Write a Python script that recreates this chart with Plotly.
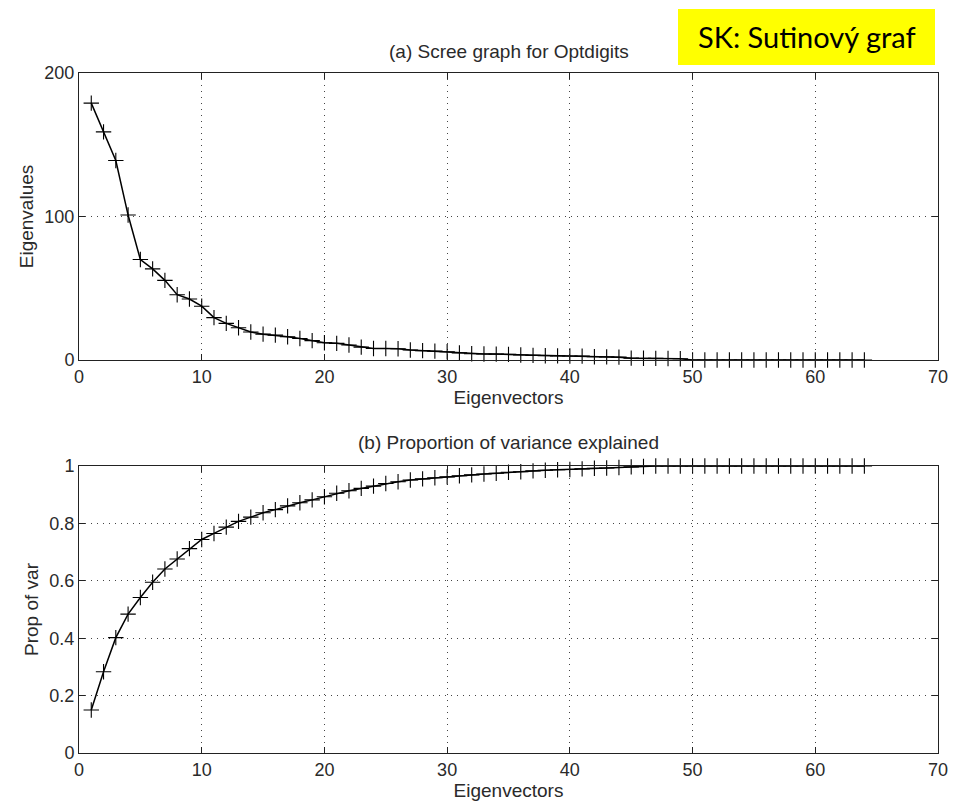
import plotly.graph_objects as go

eigvec = list(range(1, 65))
eigenvalues = [179, 159, 139, 101, 70, 63.5, 55.5, 45.5, 42.5, 37.5,
               29.5, 25.5, 22.5, 19.5, 18, 17.3, 16.2, 15, 13.5, 12,
               11.6, 10.5, 9, 8, 8, 7.8, 7, 6.5, 6.2, 5.8,
               5, 4.4, 4.2, 4.1, 3.9, 3.5, 3.2, 3.0, 2.9, 2.8,
               2.7, 2.3, 2.2, 2.0, 1.3, 1.2, 1.1, 1.0, 0.9, 0,
               0, 0, 0, 0, 0, 0, 0, 0, 0, 0, 0, 0, 0, 0]
prop_var = [0.150, 0.283, 0.402, 0.484, 0.542, 0.595, 0.641, 0.676, 0.712, 0.744,
            0.765, 0.787, 0.807, 0.822, 0.837, 0.848, 0.861, 0.872, 0.882, 0.893,
            0.905, 0.914, 0.922, 0.930, 0.939, 0.945, 0.951, 0.955, 0.959, 0.962,
            0.966, 0.969, 0.972, 0.975, 0.978, 0.980, 0.983, 0.985, 0.987, 0.988,
            0.990, 0.992, 0.993, 0.995, 0.997, 0.998, 1.0, 1.0, 1.0, 1.0,
            1.0, 1.0, 1.0, 1.0, 1.0, 1.0, 1.0, 1.0, 1.0, 1.0, 1.0, 1.0, 1.0, 1.0]

title_a = "(a) Scree graph for Optdigits"
title_b = "(b) Proportion of variance explained"
x_title = "Eigenvectors"
y_title_a = "Eigenvalues"
y_title_b = "Prop of var"
badge = "SK: Sutinový graf"

W, H = 957, 802
X0, X1 = 79, 938
TOP = (73, 360)
BOT = (466, 753)

def ydom(p):
    return [(H - p[1]) / H, (H - p[0]) / H]

font = dict(family="Liberation Sans, Arial, sans-serif", size=18, color="#2a2a2a")
tfont = dict(font, size=19)
marker = dict(symbol="cross-thin", size=11, line=dict(width=1.1, color="black"), color="black")

fig = go.Figure()
fig.add_trace(go.Scatter(x=eigvec, y=eigenvalues, mode="lines+markers",
                         line=dict(color="black", width=1.5), marker=marker,
                         cliponaxis=False, xaxis="x", yaxis="y", showlegend=False))
fig.add_trace(go.Scatter(x=eigvec, y=prop_var, mode="lines+markers",
                         line=dict(color="black", width=1.5), marker=marker,
                         cliponaxis=False, xaxis="x2", yaxis="y2", showlegend=False))

axis_common = dict(showline=True, mirror="ticks", linecolor="#222", linewidth=1,
                   ticks="inside", ticklen=6, tickcolor="#222", automargin=False,
                   showgrid=True, gridcolor="#444", griddash="1px,5px", gridwidth=1.2,
                   zeroline=False, tickfont=font)

xdom = [X0 / W, X1 / W]
fig.update_layout(
    width=W, height=H, margin=dict(l=0, r=0, t=0, b=0, autoexpand=False),
    paper_bgcolor="white", plot_bgcolor="white", font=font,
    xaxis=dict(axis_common, domain=xdom, range=[0, 70], tick0=0, dtick=10,
               anchor="y", title=dict(text=x_title, font=tfont, standoff=2)),
    yaxis=dict(axis_common, domain=ydom(TOP), range=[0, 200], tick0=0, dtick=100,
               anchor="x", title=dict(text=y_title_a, font=tfont, standoff=5)),
    xaxis2=dict(axis_common, domain=xdom, range=[0, 70], tick0=0, dtick=10,
                anchor="y2", title=dict(text=x_title, font=tfont, standoff=2)),
    yaxis2=dict(axis_common, domain=ydom(BOT), range=[0, 1], tick0=0, dtick=0.2,
                anchor="x2", title=dict(text=y_title_b, font=tfont, standoff=5)),
)

cx = (X0 + X1) / 2 / W
fig.add_annotation(text=title_a, x=cx, y=(H - 52) / H, xref="paper", yref="paper",
                   showarrow=False, font=tfont, xanchor="center", yanchor="middle")
fig.add_annotation(text=title_b, x=cx, y=(H - 442) / H, xref="paper", yref="paper",
                   showarrow=False, font=tfont, xanchor="center", yanchor="middle")

fig.add_shape(type="rect", xref="paper", yref="paper",
              x0=678 / W, x1=935 / W, y0=(H - 65) / H, y1=(H - 9) / H,
              fillcolor="#ffff00", line=dict(width=0), layer="above")
fig.add_annotation(text=badge, x=(678 + 935) / 2 / W, y=(H - 37) / H,
                   xref="paper", yref="paper", showarrow=False,
                   font=dict(family="Lato, Noto Sans, sans-serif", size=29, color="black"),
                   xanchor="center", yanchor="middle")

fig.write_html("out.html")
